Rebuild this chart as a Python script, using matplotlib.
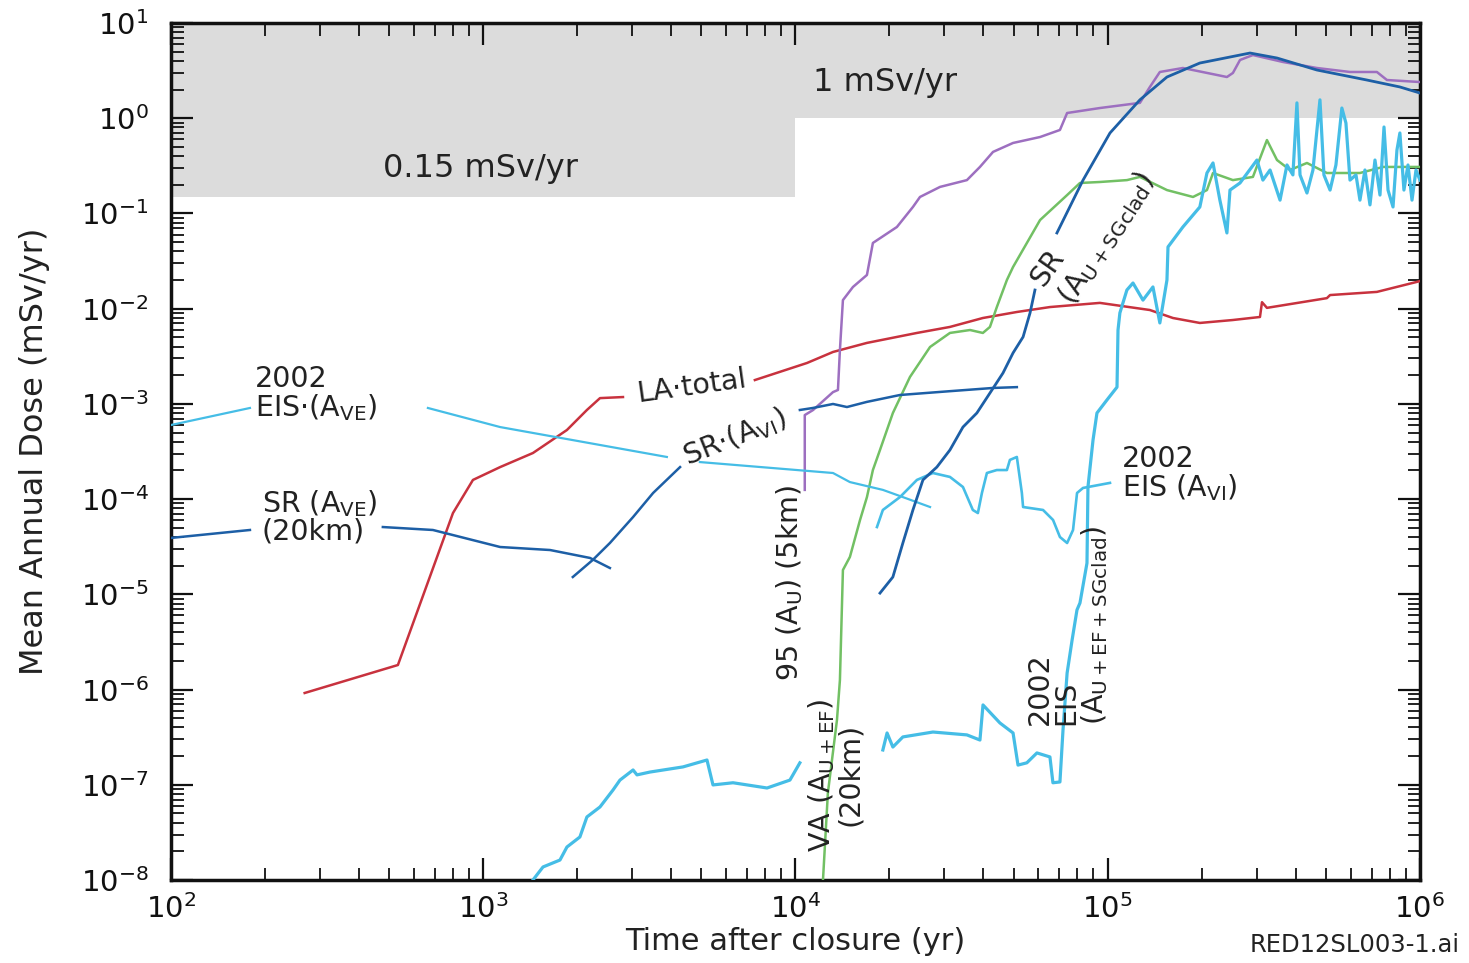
import numpy as np
import matplotlib
matplotlib.use("Agg")
import matplotlib.pyplot as plt
from matplotlib.ticker import LogLocator, NullFormatter

plt.rcParams['font.family'] = ['DejaVu Sans']
plt.rcParams['mathtext.fontset'] = 'dejavusans'

NA = np.nan  # gap where a curve label interrupts the line

# ---------------- data (time after closure in yr, dose in mSv/yr) ----------------
limit_times = [1e2, 1e4, 1e4, 1e6]
limit_lower = [0.15, 0.15, 1.0, 1.0]

la_total_t = [268, 533, 800, 927, 1133, 1443, 1854, 2148, 2366, 2803, 4591, 7413, 10890, 13190,
              16940, 24490, 31240, 39830, 51170, 65310, 94400, 136500, 161800, 197300, 251500,
              307400, 312000, 323600, 503500, 515400, 728000, 977000, 1000000]
la_total_d = [9.2e-7, 1.81e-6, 7.14e-5, 1.59e-4, 2.17e-4, 3.05e-4, 5.32e-4, 8.63e-4, 1.15e-3,
              1.18e-3, NA, 1.78e-3, 2.69e-3, 3.51e-3, 4.37e-3, 5.56e-3, 6.43e-3, 7.98e-3,
              9.23e-3, 1.04e-2, 1.15e-2, 9.68e-3, 7.98e-3, 7.08e-3, 7.60e-3, 8.18e-3, 1.17e-2,
              1.02e-2, 1.29e-2, 1.39e-2, 1.50e-2, 1.91e-2, 1.95e-2]

p95_t = [10710, 10710, 11390, 13190, 13680, 13880, 14190, 15280, 16940, 17700, 21130, 23780,
         25050, 29040, 35410, 38980, 42930, 49760, 60730, 70310, 74130, 94400, 126800, 136500,
         146900, 174100, 240900, 251800, 265300, 291800, 363900, 467700, 597000, 728000,
         784000, 1000000]
p95_d = [1.25e-4, 7.63e-4, 8.63e-4, 1.33e-3, 1.40e-3, 3.68e-3, 1.23e-2, 1.69e-2, 2.26e-2,
         4.90e-2, 7.21e-2, 0.117, 0.149, 0.190, 0.224, 0.308, 0.443, 0.550, 0.635, 0.753,
         1.135, 1.28, 1.45, 2.13, 3.06, 3.37, 2.71, 2.99, 4.09, 4.61, 3.90, 3.37, 3.06, 3.06,
         2.52, 2.40]

sr_sgclad_t = [18650, 20510, 22080, 23780, 25600, 28370, 31240, 34390, 38100, 41960, 46200,
               49760, 53580, 56400, 58480, 63000, 68760, 83370, 101700, 126800, 154800, 197300,
               285700, 348500, 467700, 676100, 862600, 1000000]
sr_sgclad_d = [1.03e-5, 1.52e-5, 3.46e-5, 7.69e-5, 1.59e-4, 2.17e-4, 3.28e-4, 5.71e-4, 8.02e-4,
               1.30e-3, 2.11e-3, 3.43e-3, 5.05e-3, 9.02e-3, 1.57e-2, NA, 6.24e-2, 0.224, 0.700,
               1.56, 2.71, 3.80, 4.84, 4.29, 3.21, 2.52, 2.13, 1.84]

sr_vi_t = [1936, 2244, 2545, 3019, 3500, 4270, 6500, 10330, 11370, 13190, 14620, 16940, 21610,
           31240, 42930, 51170]
sr_vi_d = [1.52e-5, 2.30e-5, 3.46e-5, 6.48e-5, 1.16e-4, 2.17e-4, NA, 8.63e-4, 9.06e-4, 9.98e-4,
           9.27e-4, 1.05e-3, 1.24e-3, 1.36e-3, 1.47e-3, 1.50e-3]

sr_ve_t = [100, 179, 300, 477, 690, 1133, 1637, 2198, 2545]
sr_ve_d = [3.91e-5, 4.74e-5, NA, 5.09e-5, 4.74e-5, 3.14e-5, 2.92e-5, 2.41e-5, 1.89e-5]

eis_ve_t = [100, 179, 350, 665, 1133, 3874, 4400, 4941, 13190, 14940, 19050, 22080, 26980]
eis_ve_d = [6.00e-4, 9.06e-4, NA, 9.06e-4, 5.71e-4, 2.77e-4, NA, 2.45e-4, 1.88e-4, 1.51e-4,
            1.25e-4, 1.05e-4, 8.26e-5]

eis_vi_t = [18240, 19050, 21610, 24490, 27560, 31240, 34390, 36990, 38390, 39550, 41030, 44140,
            47550, 48620, 51170, 53100, 53580, 62080, 66830, 70310, 74130, 77440, 79770, 83370,
            101700]
eis_vi_d = [5.09e-5, 7.69e-5, 1.05e-4, 1.59e-4, 1.88e-4, 1.71e-4, 1.34e-4, 7.69e-5, 7.14e-5,
            1.16e-4, 1.88e-4, 2.02e-4, 2.02e-4, 2.58e-4, 2.77e-4, 1.16e-4, 8.26e-5, 7.69e-5,
            6.04e-5, 4.00e-5, 3.46e-5, 4.74e-5, 1.16e-4, 1.31e-4, 1.48e-4]

va_t = [12250, 12700, 13580, 13880, 14190, 14940, 16100, 16940, 17700, 18650, 20510, 23270,
        26980, 31240, 36230, 39830, 41960, 44150, 47550, 49760, 60730, 74130, 81500, 94400,
        115300, 126800, 154800, 187600, 207900, 217400, 251800, 291800, 323600, 348500,
        383600, 434700, 503500, 642500, 762000, 1000000]
va_d = [1.0e-8, 8.2e-8, 4.78e-7, 1.26e-6, 1.80e-5, 2.47e-5, 6.04e-5, 1.05e-4, 2.02e-4, 3.28e-4,
        8.02e-4, 1.92e-3, 3.96e-3, 5.56e-3, 5.97e-3, 5.56e-3, 6.43e-3, 1.04e-2, 2.00e-2,
        2.74e-2, 8.53e-2, 0.156, 0.209, 0.214, 0.224, 0.242, 0.176, 0.149, 0.176, 0.266,
        0.224, 0.242, 0.590, 0.364, 0.286, 0.339, 0.266, 0.266, 0.308, 0.308]

eis_au_t = [1443, 1554, 1761, 1854, 2040, 2148, 2366, 2604, 2741, 3019, 3108, 3419, 4363, 5207,
            5443, 6310, 8110, 9600, 10330, 14000, 19050, 19650, 20510, 22080, 27560, 35410,
            38980, 39870, 45160, 49760, 51610, 55080, 59340, 65310, 66770, 70310, 71920, 74130,
            76910, 79730, 81500, 85830, 86450, 89750, 92380, 99450, 107100, 107900, 109400,
            115200, 120500, 129700, 139600, 146900, 154800, 156000, 174100, 197300, 207900,
            217400, 228700, 240900, 246400, 265300, 300600, 314100, 331100, 356400, 375100,
            391900, 403700, 413000, 434700, 454300, 478400, 492600, 515400, 538200, 562300,
            579400, 597000, 624000, 642500, 666700, 691800, 717800, 744800, 767200, 790300,
            820000, 844000, 862600, 888700, 915600, 943200, 971400, 1000000]
eis_au_d = [1.0e-8, 1.37e-8, 1.62e-8, 2.22e-8, 2.83e-8, 4.59e-8, 5.85e-8, 8.81e-8, 1.12e-7,
            1.43e-7, 1.27e-7, 1.36e-7, 1.54e-7, 1.82e-7, 9.96e-8, 1.05e-7, 9.25e-8, 1.12e-7,
            1.70e-7, NA, 2.32e-7, 3.50e-7, 2.49e-7, 3.18e-7, 3.58e-7, 3.34e-7, 2.95e-7,
            6.89e-7, 4.46e-7, 3.50e-7, 1.61e-7, 1.70e-7, 2.16e-7, 1.96e-7, 1.05e-7, 1.07e-7,
            3.76e-7, 1.49e-6, 3.31e-6, 6.86e-6, 8.11e-6, 2.13e-5, 1.34e-4, 4.18e-4, 8.02e-4,
            1.10e-3, 1.50e-3, 5.97e-3, 9.02e-3, 1.57e-2, 1.86e-2, 1.23e-2, 1.69e-2, 7.08e-3,
            2.00e-2, 4.45e-2, 7.21e-2, 0.117, 0.266, 0.339, 0.138, 6.24e-2, 0.176, 0.209, 0.364,
            0.224, 0.286, 0.138, 0.323, 0.254, 1.45, 0.254, 0.164, 0.286, 1.56, 0.254, 0.176,
            0.323, 1.28, 0.891, 0.224, 0.254, 0.138, 0.286, 0.123, 0.364, 0.156, 0.809, 0.176,
            0.117, 0.463, 0.700, 0.176, 0.323, 0.138, 0.286, 0.224]

xtick_values = [1e2, 1e3, 1e4, 1e5, 1e6]
xtick_labels = ['$10^{2}$', '$10^{3}$', '$10^{4}$', '$10^{5}$', '$10^{6}$']
ytick_values = [1e-8, 1e-7, 1e-6, 1e-5, 1e-4, 1e-3, 1e-2, 1e-1, 1e0, 1e1]
ytick_labels = ['$10^{-8}$', '$10^{-7}$', '$10^{-6}$', '$10^{-5}$', '$10^{-4}$', '$10^{-3}$',
                '$10^{-2}$', '$10^{-1}$', '$10^{0}$', '$10^{1}$']

# ---------------- styles ----------------
RED = '#c8323e'
PURPLE = '#9d6fc0'
DBLUE = '#1d5fa6'
CYAN = '#45bde6'
GREEN = '#72c064'
GRAY = '#dcdcdc'
TXT = '#222222'

fig = plt.figure(figsize=(14.69, 9.63), dpi=100)
ax = fig.add_axes([0.1164, 0.0862, 0.8502, 0.8899])
ax.set_xscale('log')
ax.set_yscale('log')
ax.set_xlim(1e2, 1e6)
ax.set_ylim(1e-8, 1e1)

ax.fill_between(limit_times, limit_lower, 10, color=GRAY, lw=0, zorder=0)
ax.text(980, 0.30, '0.15 mSv/yr', fontsize=23, ha='center', va='center', color=TXT)
ax.text(19360, 2.35, '1 mSv/yr', fontsize=23, ha='center', va='center', color=TXT)

ax.plot(la_total_t, la_total_d, color=RED, lw=1.8, zorder=3)
ax.plot(p95_t, p95_d, color=PURPLE, lw=1.8, zorder=3)
ax.plot(va_t, va_d, color=GREEN, lw=1.8, zorder=3)
ax.plot(eis_au_t, eis_au_d, color=CYAN, lw=2.3, zorder=4)
ax.plot(eis_ve_t, eis_ve_d, color=CYAN, lw=1.6, zorder=3)
ax.plot(eis_vi_t, eis_vi_d, color=CYAN, lw=1.9, zorder=3)
ax.plot(sr_ve_t, sr_ve_d, color=DBLUE, lw=1.8, zorder=3)
ax.plot(sr_vi_t, sr_vi_d, color=DBLUE, lw=1.8, zorder=3)
ax.plot(sr_sgclad_t, sr_sgclad_d, color=DBLUE, lw=2.0, zorder=5)

lab = dict(fontsize=20.5, color=TXT, zorder=6)
ax.text(186, 1.27e-3, '2002\nEIS\u00b7(A$_{\\mathrm{VE}}$)', ha='left', va='center',
        linespacing=0.95, **lab)
ax.text(195, 6.48e-5, 'SR (A$_{\\mathrm{VE}}$)\n(20km)', ha='left', va='center',
        linespacing=0.95, **lab)
ax.text(4667, 1.54e-3, 'LA\u00b7total', ha='center', va='center', rotation=8, **lab)
ax.text(6397, 4.49e-4, 'SR\u00b7(A$_{\\mathrm{VI}}$)', ha='center', va='center', rotation=22,
        **lab)
ax.text(9594, 1.31e-5, '95 (A$_{\\mathrm{U}}$) (5km)', ha='center', va='center', rotation=90,
        **lab)
ax.text(13400, 1.27e-7, 'VA (A$_{\\mathrm{U+EF}}$)\n(20km)', ha='center', va='center',
        rotation=90, linespacing=0.95, **lab)
ax.text(63900, 2.67e-2, 'SR', ha='center', va='center', rotation=55, **lab)
ax.text(98600, 5.52e-2, '(A$_{\\mathrm{U+SGclad}}$)', ha='center', va='center', rotation=57,
        **lab)
ax.text(111100, 1.84e-4, '2002\nEIS (A$_{\\mathrm{VI}}$)', ha='left', va='center',
        linespacing=0.95, **lab)
ax.text(74600, 4.25e-7, '2002\nEIS\n(A$_{\\mathrm{U+EF+SGclad}}$)', ha='center', va='bottom',
        rotation=90, linespacing=0.95, multialignment='left', **lab)

# ---------------- axes styling ----------------
ax.set_xticks(xtick_values)
ax.set_xticklabels(xtick_labels)
ax.set_yticks(ytick_values)
ax.set_yticklabels(ytick_labels)
ax.xaxis.set_minor_locator(LogLocator(base=10, subs=np.arange(2, 10), numticks=20))
ax.yaxis.set_minor_locator(LogLocator(base=10, subs=np.arange(2, 10), numticks=20))
ax.xaxis.set_minor_formatter(NullFormatter())
ax.yaxis.set_minor_formatter(NullFormatter())
ax.tick_params(which='both', direction='in', top=True, right=True, colors='#111111')
ax.tick_params(which='major', length=16, width=1.6, labelsize=21)
ax.tick_params(which='minor', length=9, width=1.3)
ax.tick_params(axis='y', which='major', pad=16)
ax.tick_params(axis='x', which='major', pad=10)
for s in ax.spines.values():
    s.set_linewidth(2.5)
    s.set_color('#111111')

ax.set_xlabel('Time after closure (yr)', fontsize=22, labelpad=2, color=TXT)
ax.set_ylabel('Mean Annual Dose (mSv/yr)', fontsize=23, labelpad=22, color=TXT)

fig.text(0.9939, 0.0187, 'RED12SL003-1.ai', fontsize=17.5, ha='right', va='center',
         color=TXT)

fig.savefig('out.png', dpi=100, facecolor='white')
